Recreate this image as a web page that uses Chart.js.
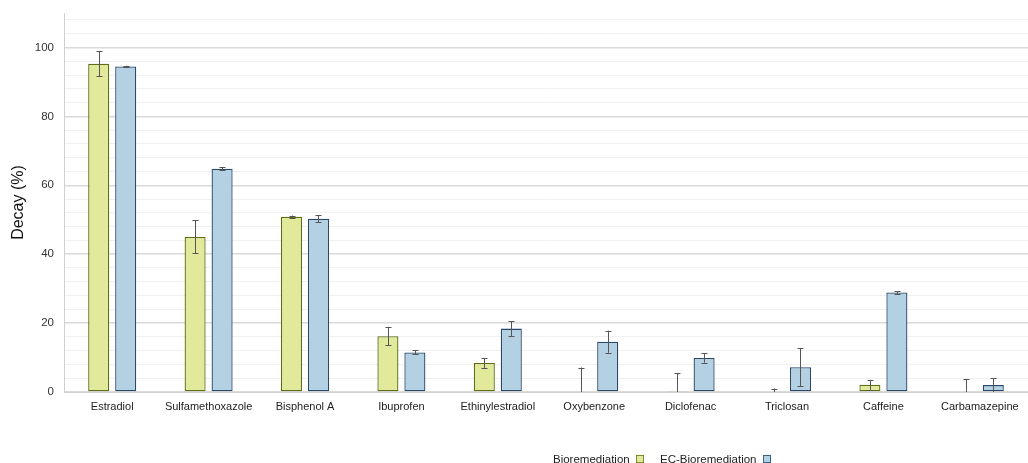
<!DOCTYPE html>
<html>
<head>
<meta charset="utf-8">
<script src="https://cdn.jsdelivr.net/npm/chart.js@4.4.1/dist/chart.umd.min.js"></script>
<style>
  html, body { margin: 0; padding: 0; background: #ffffff; }
  #wrap { position: relative; width: 1028px; height: 463px; }
  #chart { position: absolute; left: 0; top: 0; }
  .legend { position: absolute; top: 452px; font-family: "Liberation Sans", Arial, sans-serif; font-size: 11.5px; color: #222; white-space: nowrap; line-height: 14px; }
  .legend .box { display: inline-block; width: 6px; height: 6px; margin-left: 6px; vertical-align: 0px; }
</style>
</head>
<body>
<div id="wrap">
  <canvas id="chart" width="1028" height="463"></canvas>
  <div class="legend" style="left:553px">Bioremediation<span class="box" style="background:#e2e99b;border:1px solid #7d8a2a"></span></div>
  <div class="legend" style="left:660px">EC-Bioremediation<span class="box" style="background:#b3d1e2;border:1px solid #3b6585"></span></div>
</div>
<script>
// Pollutant decay by treatment
const categories = ["Estradiol", "Sulfamethoxazole", "Bisphenol A", "Ibuprofen", "Ethinylestradiol",
                    "Oxybenzone", "Diclofenac", "Triclosan", "Caffeine", "Carbamazepine"];
const bioValues   = [95.3, 45.0, 50.9, 16.2, 8.4, 0.0, 0.3, 0.0, 2.1, 0.0];
const bioErrors   = [3.7, 4.8, 0.3, 2.7, 1.5, 7.1, 5.1, 1.0, 1.45, 3.8];
const ecValues    = [94.5, 64.8, 50.3, 11.5, 18.4, 14.6, 9.9, 7.2, 28.9, 2.0];
const ecErrors    = [0.2, 0.4, 1.0, 0.6, 2.2, 3.2, 1.4, 5.5, 0.4, 2.0];
const yTickLabels = [0, 20, 40, 60, 80, 100];

const FONT = '"Liberation Sans", Arial, sans-serif';

// Error bars drawn on top of each bar, clipped to the plot area
const errorBarPlugin = {
  id: 'errorBars',
  afterDatasetsDraw(chart) {
    const ctx = chart.ctx;
    const yScale = chart.scales.y;
    const area = chart.chartArea;
    ctx.save();
    ctx.beginPath();
    ctx.rect(area.left, area.top, area.right - area.left, area.bottom - area.top);
    ctx.clip();
    ctx.strokeStyle = '#555555';
    ctx.lineWidth = 1;
    chart.data.datasets.forEach((ds, di) => {
      const meta = chart.getDatasetMeta(di);
      meta.data.forEach((bar, i) => {
        const v = ds.data[i];
        const e = ds.errors[i];
        const x = Math.round(bar.x) + 0.5;
        const yHi = yScale.getPixelForValue(v + e);
        const yLo = yScale.getPixelForValue(v - e);
        ctx.beginPath();
        ctx.moveTo(x, yHi);
        ctx.lineTo(x, yLo);
        ctx.moveTo(x - 3, Math.round(yHi) + 0.5);
        ctx.lineTo(x + 3, Math.round(yHi) + 0.5);
        ctx.moveTo(x - 3, Math.round(yLo) + 0.5);
        ctx.lineTo(x + 3, Math.round(yLo) + 0.5);
        ctx.stroke();
      });
    });
    ctx.restore();
  }
};

new Chart(document.getElementById('chart'), {
  type: 'bar',
  data: {
    labels: categories,
    datasets: [
      {
        label: 'Bioremediation',
        data: bioValues,
        errors: bioErrors,
        backgroundColor: '#e2e99b',
        borderColor: '#5f6d16',
        borderWidth: 1.3,
        borderSkipped: false,
        categoryPercentage: 0.56,
        barPercentage: 0.78
      },
      {
        label: 'EC-Bioremediation',
        data: ecValues,
        errors: ecErrors,
        backgroundColor: '#b3d1e2',
        borderColor: '#27486a',
        borderWidth: 1.3,
        borderSkipped: false,
        categoryPercentage: 0.56,
        barPercentage: 0.78
      }
    ]
  },
  options: {
    responsive: false,
    animation: false,
    layout: { padding: { top: 13, right: 0, bottom: 0, left: 0 } },
    plugins: {
      legend: { display: false },
      tooltip: { enabled: false }
    },
    scales: {
      x: {
        grid: { display: false, drawTicks: false },
        border: { display: true, color: '#d0d0d0', width: 1 },
        ticks: { color: '#222', font: { family: FONT, size: 11 }, padding: 8, maxRotation: 0, autoSkip: false },
        afterFit(scale) { scale.height = 71; }
      },
      y: {
        min: 0,
        max: 110,
        afterBuildTicks(scale) {
          const t = [];
          for (let v = 0; v <= 108; v += 4) t.push({ value: v });
          scale.ticks = t;
        },
        ticks: {
          color: '#333',
          font: { family: FONT, size: 11.5 },
          padding: 10,
          autoSkip: false,
          callback(v) { return yTickLabels.includes(v) ? String(v) : ''; }
        },
        grid: {
          drawTicks: false,
          color(ctx) { return ctx.tick && ctx.tick.value % 20 === 0 ? '#dadada' : '#f0f0f0'; },
          lineWidth(ctx) { return ctx.tick && ctx.tick.value % 20 === 0 ? 1.5 : 1; }
        },
        border: { display: true, color: '#d0d0d0', width: 1 },
        title: {
          display: true,
          text: 'Decay (%)',
          color: '#111',
          font: { family: FONT, size: 16 },
          padding: { top: 9, bottom: 0 }
        },
        afterFit(scale) {
          scale.width = 64;
          scale.paddingTop = 0;
          scale.paddingBottom = 0;
        }
      }
    }
  },
  plugins: [errorBarPlugin]
});
</script>
</body>
</html>
